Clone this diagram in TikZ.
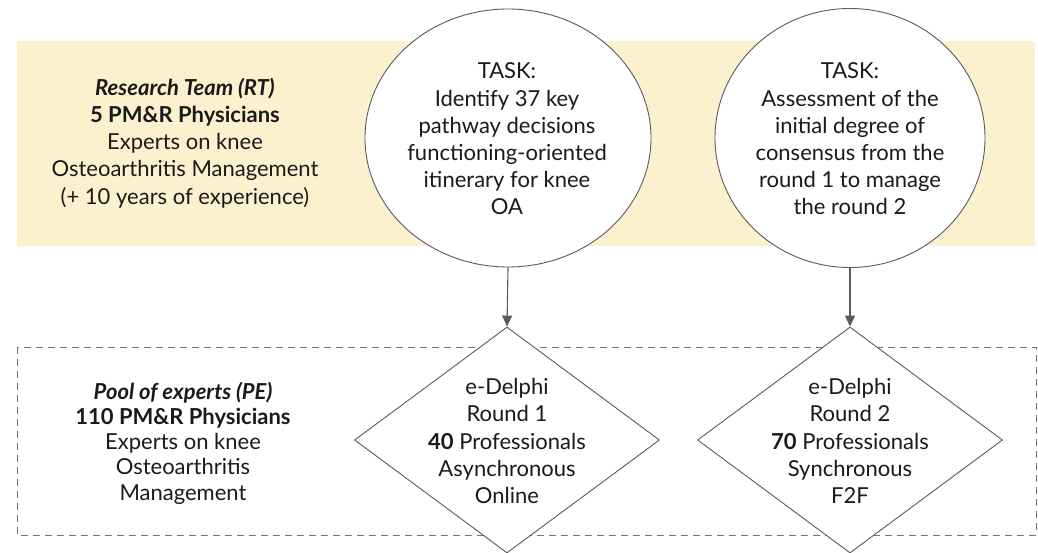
\documentclass[tikz,border=0pt]{standalone}
\usepackage{fontspec}
\setmainfont{Lato}
\usetikzlibrary{shapes.geometric,arrows.meta}
\definecolor{band}{HTML}{FCF1CF}
\definecolor{edge}{HTML}{5A5A5A}
\definecolor{ink}{HTML}{1A1A1A}
\begin{document}
\begin{tikzpicture}[x=1pt,y=-1pt,
  txt/.style={align=center,text=ink,font=\fontsize{22}{27.2}\selectfont,inner sep=0pt},
  taskbubble/.style={ellipse,draw=edge,line width=0.9pt,fill=white,inner sep=0pt},
  roundbox/.style={diamond,draw=edge,line width=0.9pt,fill=white,inner sep=0pt},
  link/.style={draw=edge,line width=1.1pt,-{Triangle[length=11pt,width=10pt]}}]
\useasboundingbox (0,0) rectangle (1038,553);
\fill[band] (17,41) rectangle (1035,246);
\draw[edge!85,line width=1pt,dash pattern=on 7pt off 5pt] (17,347) rectangle (1036,535);
% left texts
\node[txt] (rt) at (185,143) {\textbf{\textit{Research Team (RT)}}\\\textbf{5 PM\&R Physicians}\\Experts on knee\\Osteoarthritis Management\\(+ 10 years of experience)};
\node[txt,font=\fontsize{22}{25.2}\selectfont] (pe) at (183,443) {\textbf{\textit{Pool of experts (PE)}}\\\textbf{110 PM\&R Physicians}\\Experts on knee\\Osteoarthritis\\Management};
% circles
\node[taskbubble,minimum width=286pt,minimum height=258pt] (c1) at (508,138) {};
\node[taskbubble,minimum width=270pt,minimum height=259pt] (c2) at (850,138) {};
\node[txt] (c1t) at (507,139) {TASK:\\Identify 37 key\\pathway decisions\\functioning-oriented\\itinerary for knee\\OA};
\node[txt] (c2t) at (850,139) {TASK:\\Assessment of the\\initial degree of\\consensus from the\\round 1 to manage\\the round 2};
% diamonds
\node[roundbox,minimum width=305pt,minimum height=226pt] (d1) at (507,440) {};
\node[roundbox,minimum width=305pt,minimum height=226pt] (d2) at (850,440) {};
\node[txt] (d1t) at (507,441) {e-Delphi\\Round 1\\\textbf{40} Professionals\\Asynchronous\\Online};
\node[txt] (d2t) at (850,441) {e-Delphi\\Round 2\\\textbf{70} Professionals\\Synchronous\\F2F};
% arrows
\draw[link] (c1.south) -- (d1.north);
\draw[link] (c2.south) -- (d2.north);
\end{tikzpicture}
\end{document}
